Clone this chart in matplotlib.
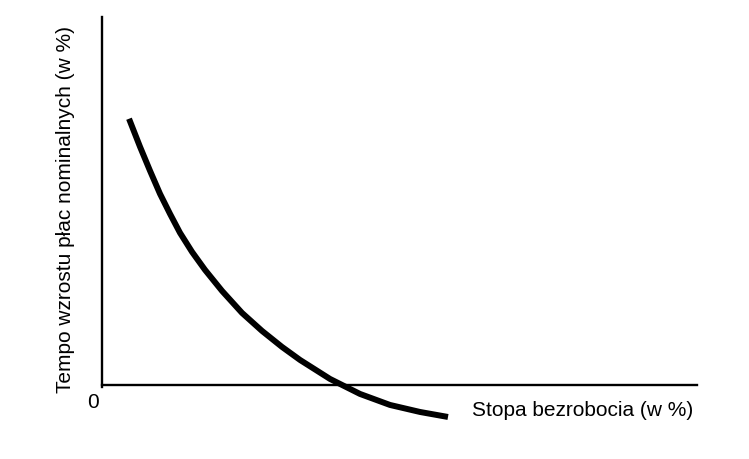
import matplotlib
matplotlib.use("Agg")
import matplotlib.pyplot as plt

plt.rcParams['font.family'] = ['Liberation Sans', 'DejaVu Sans']

# Phillips curve (unemployment %, nominal wage growth %)
unemployment = [0.454, 0.639, 0.807, 0.975, 1.143, 1.311, 1.513, 1.731, 2.017,
                2.353, 2.689, 3.025, 3.328, 3.832, 4.336, 4.840, 5.345, 5.815]
wage_growth = [4.471, 4.000, 3.597, 3.210, 2.874, 2.555, 2.235, 1.933, 1.580,
               1.210, 0.908, 0.639, 0.420, 0.101, -0.151, -0.336, -0.454, -0.538]

x_label = "Stopa bezrobocia (w %)"
y_label = "Tempo wzrostu płac nominalnych (w %)"
origin_label = "0"

W, H = 749, 460
fig = plt.figure(figsize=(W / 100, H / 100), dpi=100)
ax = fig.add_axes([102 / W, 30 / H, 595 / W, 412 / H])
ax.set_xlim(0, 10)
ax.set_ylim(-0.74, 6.18)

ax.plot(unemployment, wage_growth, color='black', lw=4.3, solid_capstyle='butt',
        solid_joinstyle='round', clip_on=False)

for s in ['top', 'right']:
    ax.spines[s].set_visible(False)
ax.spines['bottom'].set_position(('data', 0))
ax.spines['left'].set_bounds(-0.03, 6.18)
for s in ['bottom', 'left']:
    ax.spines[s].set_linewidth(1.7)
    ax.spines[s].set_color('black')
ax.set_xticks([])
ax.set_yticks([])

ax.text(-0.15, -0.27, origin_label, ha='center', va='center', fontsize=15, clip_on=False)
ax.text(8.08, -0.42, x_label, ha='center', va='center', fontsize=15, clip_on=False)
ax.text(-0.62, 2.96, y_label, ha='center', va='center', rotation=90, fontsize=15, clip_on=False)

fig.savefig("out.png", dpi=100)
